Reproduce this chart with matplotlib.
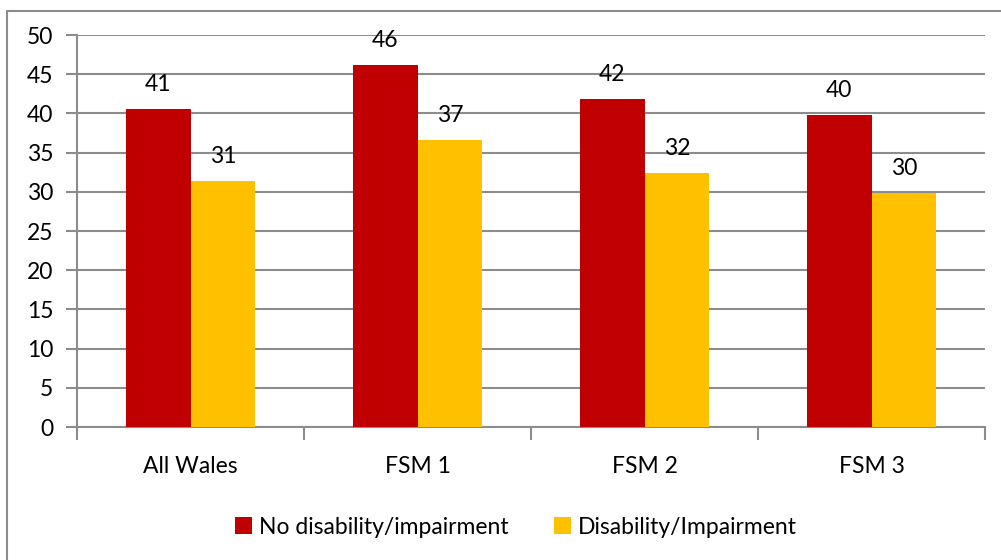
import matplotlib
matplotlib.use("Agg")
import matplotlib.pyplot as plt
from matplotlib.patches import Rectangle
import numpy as np

categories = ["All Wales", "FSM 1", "FSM 2", "FSM 3"]
no_disability = [40.6, 46.2, 41.9, 39.8]
disability = [31.4, 36.6, 32.4, 29.9]
series_names = ["No disability/impairment", "Disability/Impairment"]
colors = ["#C00000", "#FFC000"]
yticks = list(range(0, 55, 5))

plt.rcParams["font.family"] = ["Lato", "DejaVu Sans"]
FS = 16.5

W, H = 1001, 560
fig = plt.figure(figsize=(W / 100, H / 100), dpi=100)

# outer chart frame
fig.patches.append(Rectangle((7 / W, -0.1), 1.2, (H - 11) / H + 0.1,
                             transform=fig.transFigure, fill=False,
                             edgecolor="#8c8c8c", linewidth=1.5))

ax = fig.add_axes([77 / W, 1 - 427 / H, (985 - 77) / W, (427 - 35) / H])

x = np.arange(len(categories))
bw = 0.286
grid_c = "#8c8c8c"

for i, (vals, col) in enumerate(zip([no_disability, disability], colors)):
    pos = x + (i - 0.5) * bw
    bars = ax.bar(pos, vals, width=bw, color=col, label=series_names[i], zorder=3)
    for b, v in zip(bars, vals):
        ax.annotate(f"{int(v + 0.5)}", (b.get_x() + b.get_width() / 2, v),
                    xytext=(0, 10), textcoords="offset points",
                    ha="center", va="bottom", fontsize=FS, color="#000000")

ax.set_xlim(-0.5, len(categories) - 0.5)
ax.set_ylim(0, 50)
ax.set_yticks(yticks)
ax.set_yticklabels([str(t) for t in yticks], fontsize=FS)
ax.yaxis.grid(True, color=grid_c, linewidth=1.5, zorder=0)
ax.set_axisbelow(True)

# category ticks at group boundaries, labels centred
ax.set_xticks(np.arange(-0.5, len(categories), 1.0))
ax.set_xticklabels([])
ax.set_xticks(x, minor=True)
ax.set_xticklabels(categories, minor=True, fontsize=FS)
ax.tick_params(axis="x", which="minor", length=0, pad=21)
ax.tick_params(axis="x", which="major", length=9, width=1.5, color=grid_c)
ax.tick_params(axis="y", length=8, width=1.5, color=grid_c, pad=9)

for s in ["top", "right"]:
    ax.spines[s].set_visible(False)
for s in ["left", "bottom"]:
    ax.spines[s].set_color(grid_c)
    ax.spines[s].set_linewidth(1.5)

ax.legend(loc="center", bbox_to_anchor=(516 / W, 1 - 527 / H),
          bbox_transform=fig.transFigure, ncol=2, frameon=False,
          fontsize=FS, handlelength=0.75, handleheight=0.75,
          handletextpad=0.3, columnspacing=2.0)

fig.savefig("out.png", dpi=100)
